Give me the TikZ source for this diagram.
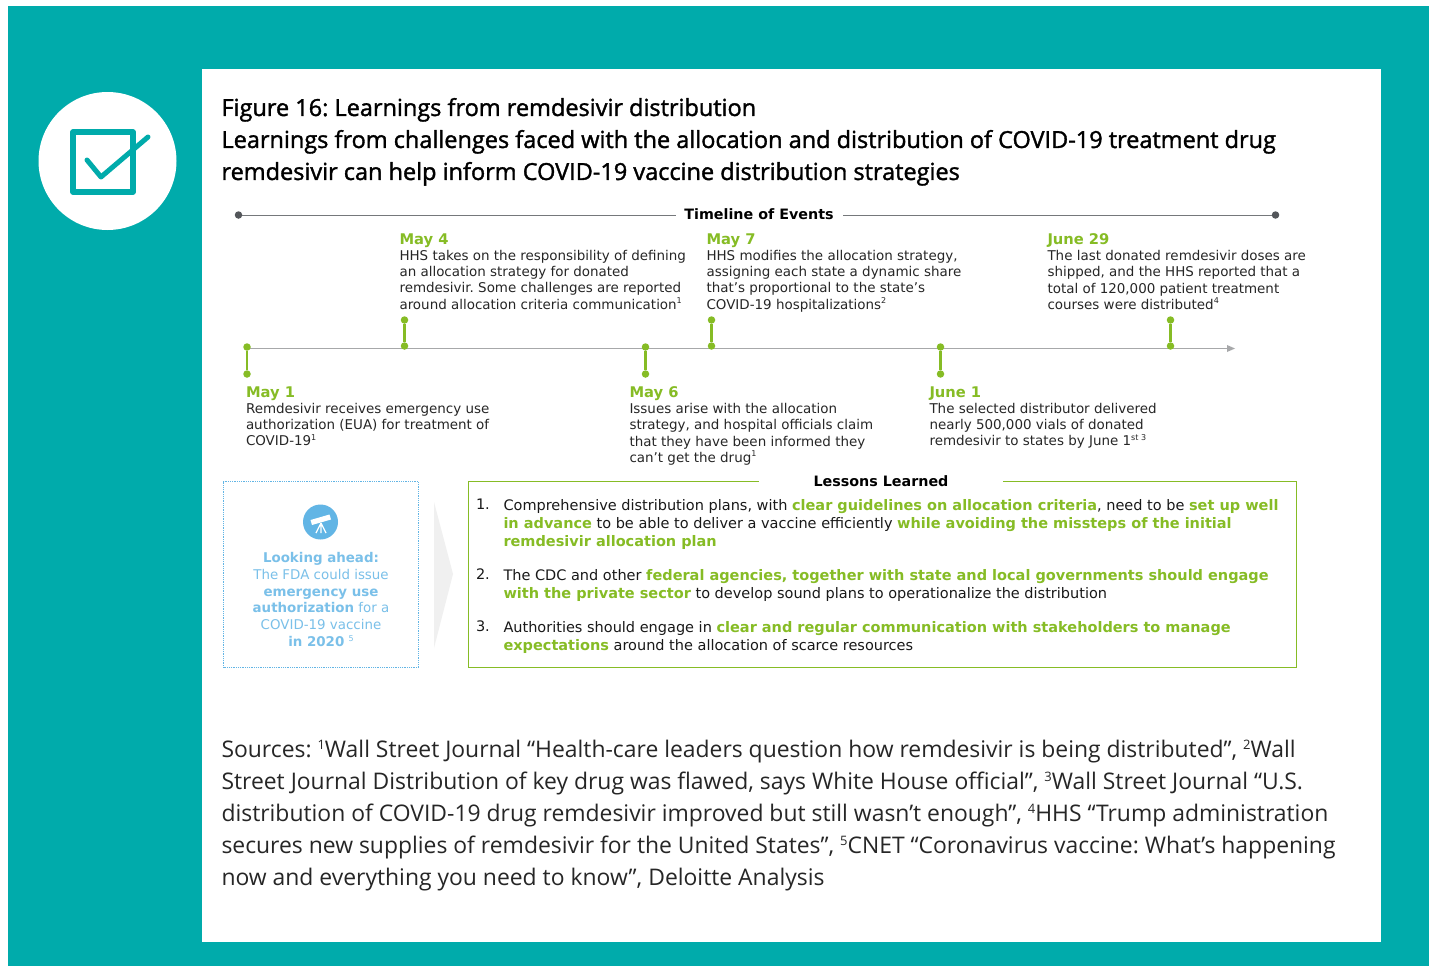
\documentclass[tikz,border=0pt]{standalone}
\usepackage{fontspec}
\setmainfont{Open Sans}
\newfontfamily\vfont{DejaVu Sans}
\newfontfamily\tfont{Open Sans}[FakeBold=1.5]
\definecolor{teal1}{HTML}{00ABAB}
\definecolor{grn}{HTML}{86BC25}
\definecolor{blu}{HTML}{62B5E5}
\definecolor{dgray}{HTML}{53565A}
\definecolor{lgray}{HTML}{A7A8AA}
\newcommand{\gt}[1]{\textcolor{grn}{\textbf{#1}}}
\newcommand{\sps}[1]{\raisebox{0.42em}{\fontsize{8}{8}\selectfont #1}}
\newcommand{\spl}[1]{\raisebox{0.36em}{\fontsize{13}{13}\selectfont #1}}
\newcommand{\evd}[1]{{\fontsize{14.7}{16.2}\selectfont\textcolor{grn}{\textbf{#1}}}\\}
\tikzset{
 x=1pt,y=-1pt,
 every node/.style={inner sep=0pt,outer sep=0pt},
 titletxt/.style={anchor=north west,align=left,font=\frenchspacing\tfont\fontsize{23.5}{32}\selectfont,text=black},
 srctxt/.style={anchor=north west,align=left,font=\frenchspacing\fontsize{22.9}{32}\selectfont,text=black!85},
 evt/.style={anchor=north west,align=left,font=\frenchspacing\vfont\fontsize{13.45}{16.2}\selectfont,text=black!85},
 head/.style={font=\vfont\bfseries\fontsize{14.3}{16}\selectfont,text=black},
 dot/.style={circle,fill=grn,minimum size=7.5pt},
 stem/.style={draw=grn,line width=2.5pt},
 enddot/.style={circle,fill=dgray,minimum size=7.5pt},
 lesson/.style={anchor=north west,align=left,font=\frenchspacing\vfont\fontsize{14.5}{18.4}\selectfont,text=black!90},
 num/.style={anchor=north west,font=\vfont\fontsize{14.5}{18.4}\selectfont,text=black!90},
 look/.style={align=center,font=\frenchspacing\vfont\fontsize{13.4}{16.9}\selectfont,text=blu!85},
}
\begin{document}
\begin{tikzpicture}
\useasboundingbox (0,0) rectangle (1434,966);
\fill[teal1] (8,6) rectangle (1429,966);
\fill[white] (202,69) rectangle (1381,942);
% icon
\node[circle,fill=white,minimum size=138pt] (badge) at (107.5,161) {};
\draw[teal1,line width=5.5pt,line join=round] (73,132) rectangle (133,192);
\draw[teal1,line width=5pt,line cap=round,line join=round,fill=none] (87,160) -- (101,177) -- (148,137);
% title
\node[titletxt] (title) at (221.5,98) {Figure 16: Learnings from remdesivir distribution\\Learnings from challenges faced with the allocation and distribution of COVID-19 treatment drug\\remdesivir can help inform COVID-19 vaccine distribution strategies};
% top rule
\node[enddot] (tl) at (238.5,215) {};
\node[enddot] (tr) at (1275.5,215) {};
\node[head] (tevents) at (759,214) {Timeline of Events};
\coordinate (tla) at (676,215);
\coordinate (tlb) at (843,215);
\draw[dgray!80,line width=1pt] (tl) -- (tla);
\draw[dgray!80,line width=1pt] (tlb) -- (tr);
% axis
\coordinate (axs) at (247,348.5);
\coordinate (axm) at (1227,348.5);
\coordinate (axe) at (1235,348.5);
\draw[lgray,line width=1pt] (axs) -- (axm);
\fill[lgray] (axe) -- (1227,345) -- (1227,352) -- cycle;
% stems
\foreach \n/\x/\a/\b in {a/247/347/374,b/404.5/320/346,c/645.5/347/374,d/711.5/320/346,e/940.5/347/374,f/1170.5/320/346}{
 \node[dot] (\n1) at (\x,\a) {};
 \node[dot] (\n2) at (\x,\b) {};
 \draw[stem] (\n1) -- (\n2);
}
% events
\node[evt] (e1) at (246,386.5) {\evd{May 1}Remdesivir receives emergency use\\authorization (EUA) for treatment of\\COVID-19\sps{1}};
\node[evt] (e2) at (399.5,233.5) {\evd{May 4}HHS takes on the responsibility of defining\\an allocation strategy for donated\\remdesivir. Some challenges are reported\\around allocation criteria communication\sps{1}};
\node[evt] (e3) at (629.5,386.5) {\evd{May 6}Issues arise with the allocation\\strategy, and hospital officials claim\\that they have been informed they\\can’t get the drug\sps{1}};
\node[evt] (e4) at (706.5,233.5) {\evd{May 7}HHS modifies the allocation strategy,\\assigning each state a dynamic share\\that’s proportional to the state’s\\COVID-19 hospitalizations\sps{2}};
\node[evt] (e5) at (929.5,386.5) {\evd{June 1}The selected distributor delivered\\nearly 500,000 vials of donated\\remdesivir to states by June 1\sps{st 3}};
\node[evt] (e6) at (1047.5,233.5) {\evd{June 29}The last donated remdesivir doses are\\shipped, and the HHS reported that a\\total of 120,000 patient treatment\\courses were distributed\sps{4}};
% looking ahead
\node[draw=blu,densely dotted,line width=0.8pt,minimum width=195pt,minimum height=186pt] (lookbox) at (321,574.5) {};
\node[circle,fill=blu,minimum size=35pt] (scope) at (320.5,522) {};
\fill[white] (310.5,520) -- (329.5,514.5) -- (331,519.5) -- (312,525) -- cycle;
\draw[white,line width=1.3pt] (321,523) -- (316,533) (321,523) -- (321,533) (321,523) -- (326,533);
\node[look] (looktxt) at (321,599.5) {\textbf{Looking ahead:}\\The FDA could issue\\\textbf{emergency use}\\\textbf{authorization} for a\\COVID-19 vaccine\\\textbf{in 2020} \sps{5}};
% arrow
\fill[black!6] (434,502) -- (453,574) -- (434,648) -- cycle;
% lessons
\node[draw=grn,line width=1pt,minimum width=828pt,minimum height=186pt] (lbox) at (882,574.5) {};
\node[head,fill=white,inner xsep=55pt,inner ysep=1pt] (ltitle) at (881,481.5) {Lessons Learned};
\node[num] (n1) at (476,499) {1.};
\node[lesson] (l1) at (503.5,499) {Comprehensive distribution plans, with \gt{clear guidelines on allocation criteria}, need to be \gt{set up well}\\\gt{in advance} to be able to deliver a vaccine efficiently \gt{while avoiding the missteps of the initial}\\\gt{remdesivir allocation plan}};
\node[num] (n2) at (476,569) {2.};
\node[lesson] (l2) at (503.5,569) {The CDC and other \gt{federal agencies, together with state and local governments should engage}\\\gt{with the private sector} to develop sound plans to operationalize the distribution};
\node[num] (n3) at (476,621) {3.};
\node[lesson] (l3) at (503.5,621) {Authorities should engage in \gt{clear and regular communication with stakeholders to manage}\\\gt{expectations} around the allocation of scarce resources};
% sources
\node[srctxt] (src) at (221.5,740) {Sources: \spl{1}Wall Street Journal “Health-care leaders question how remdesivir is being distributed”, \spl{2}Wall\\Street Journal Distribution of key drug was flawed, says White House official”, \spl{3}Wall Street Journal “U.S.\\distribution of COVID-19 drug remdesivir improved but still wasn’t enough”, \spl{4}HHS “Trump administration\\secures new supplies of remdesivir for the United States”, \spl{5}CNET “Coronavirus vaccine: What’s happening\\now and everything you need to know”, Deloitte Analysis};
\end{tikzpicture}
\end{document}
